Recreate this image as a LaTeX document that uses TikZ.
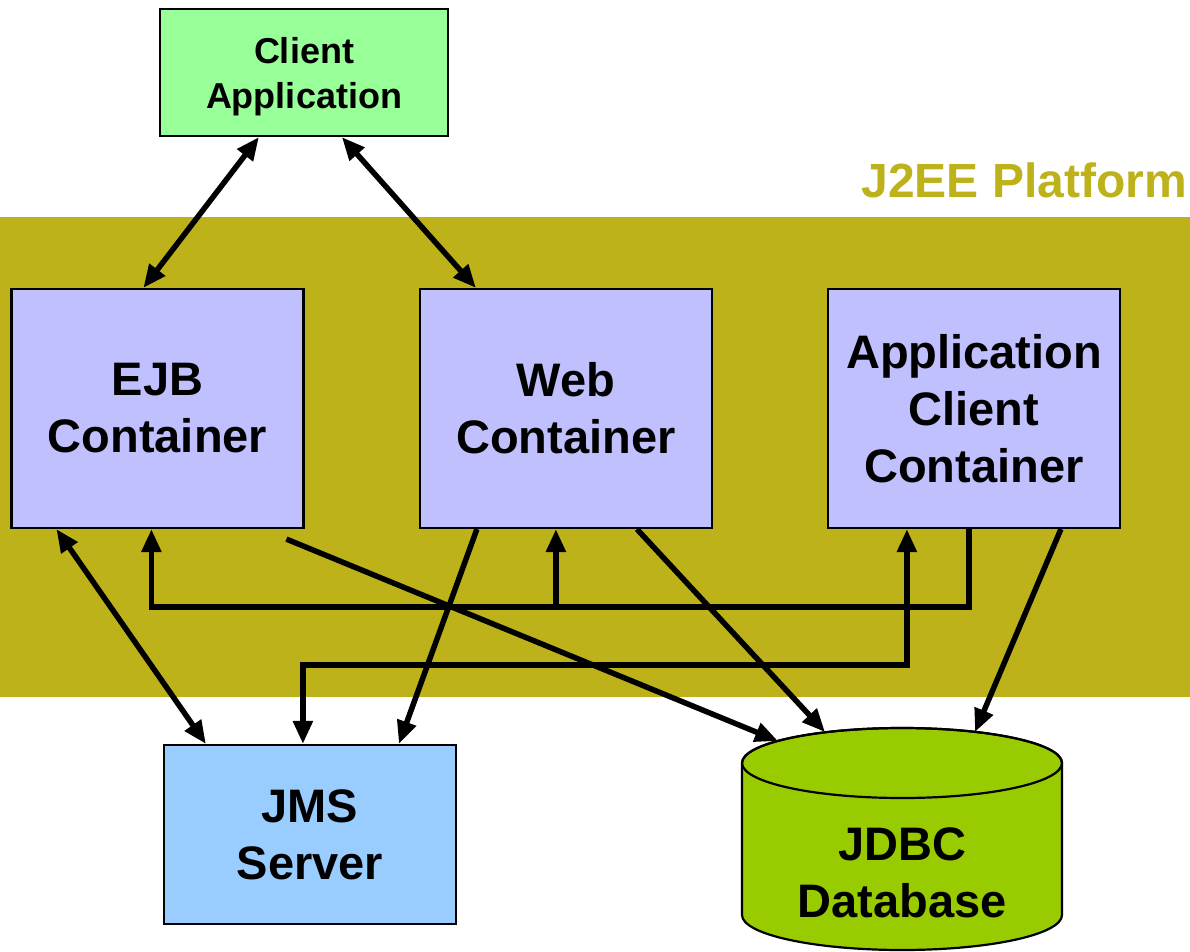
\documentclass[tikz,border=0pt]{standalone}
\usepackage{fontspec}
\setmainfont{Liberation Sans}
\usetikzlibrary{arrows.meta}
\definecolor{olive}{RGB}{189,178,26}
\definecolor{clientgreen}{RGB}{153,255,153}
\definecolor{contblue}{RGB}{192,192,255}
\definecolor{jmsblue}{RGB}{153,204,255}
\definecolor{dbgreen}{RGB}{153,204,0}
\tikzset{
  big/.style={font=\bfseries\fontsize{47}{57}\selectfont},
  box/.style={draw=black, line width=2.2pt, rectangle, inner sep=0pt, align=center, big},
  container/.style={box, fill=contblue, minimum width=292pt, minimum height=239pt},
  link/.style={line width=5.5pt, draw=black},
  tip/.tip={Triangle[length=23pt,width=19pt]},
  one/.style={link, -tip},
  both/.style={link, tip-tip},
}
\begin{document}
\begin{tikzpicture}[x=1pt,y=-1pt]
\useasboundingbox (0,0) rectangle (1190,952);

% platform band and its title
\fill[olive] (0,217) rectangle (1190,697);
\node[anchor=base east, text=olive, inner sep=0pt,
  font=\bfseries\fontsize{48}{57}\selectfont] (title) at (1187,197) {J2EE Platform};

% components
\node[box, fill=clientgreen, minimum width=288pt, minimum height=127pt] (client) at (304,72.5) {};
\node[align=center, inner sep=0pt, font=\bfseries\fontsize{36}{45}\selectfont]
  (clienttext) at (304,77) {Client\\Application};
\node[container] (ejb) at (157.5,408.5) {EJB\\Container};
\node[container] (web) at (566,408.5) {Web\\Container};
\node[container] (acc) at (974,408.5) {Application\\Client\\Container};
\node[box, fill=jmsblue, minimum width=292pt, minimum height=179pt] (jms) at (310,834.5) {JMS\\Server};

% database cylinder
\coordinate (dbtop) at (902,763);
\filldraw[fill=dbgreen, draw=black, line width=2.2pt]
  (742,763) -- (742,915) arc[start angle=180, end angle=360, x radius=160, y radius=-35]
  -- (1062,763) arc[start angle=0, end angle=180, x radius=160, y radius=-35] -- cycle;
\draw[line width=2.2pt] (dbtop) ellipse[x radius=160, y radius=35];
\node[big, align=center, inner sep=0pt] (db) at (902,873) {JDBC\\Database};

% client links
\draw[both] ([xshift=100pt]client.south west) -- ([xshift=133pt]ejb.north west);
\draw[both] ([xshift=183pt]client.south west) -- ([xshift=57pt]web.north west);

% EJB <-> JMS
\draw[both] ([xshift=46pt]ejb.south west) -- ([xshift=43pt]jms.north west);

% application client bus to EJB and Web
\draw[one] ([xshift=142pt]acc.south west) -- ++(0,78) -| ([xshift=141pt]ejb.south west);
\draw[one] ([xshift=137pt,yshift=-78pt]web.south west) -- ([xshift=137pt]web.south west);

% application client <-> JMS
\draw[both] ([xshift=80pt]acc.south west) -- ++(0,136) -| ([xshift=140pt]jms.north west);

% links to the database and JMS
\draw[one] ([xshift=276pt,yshift=-10pt]ejb.south west) -- ([shift={(-124,-22)}]dbtop);
\draw[one] ([xshift=58pt]web.south west) -- ([xshift=236pt]jms.north west);
\draw[one] ([xshift=218pt]web.south west) -- ([shift={(-77,-31)}]dbtop);
\draw[one] ([xshift=234pt]acc.south west) -- ([shift={(73,-31)}]dbtop);
\end{tikzpicture}
\end{document}
